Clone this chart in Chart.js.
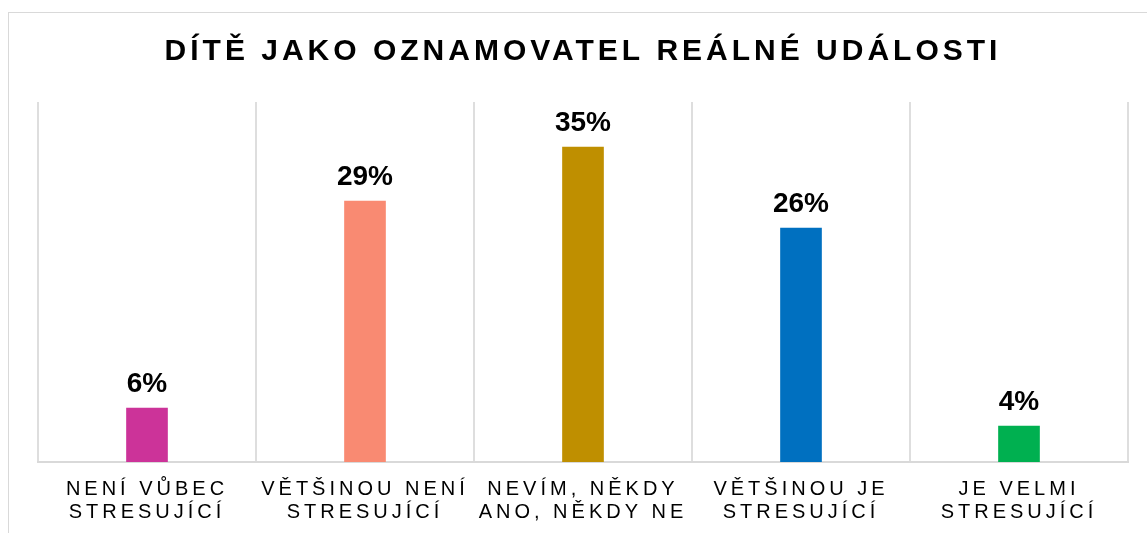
<!DOCTYPE html>
<html>
<head>
<meta charset="utf-8">
<script src="https://cdn.jsdelivr.net/npm/chart.js@4/dist/chart.umd.min.js"></script>
<style>
  html, body { margin: 0; padding: 0; background: #fff; }
  #wrap { position: relative; width: 1147px; height: 533px; }
</style>
</head>
<body>
<div id="wrap"><canvas id="myChart"></canvas></div>
<script>
const categories = [
  ["NENÍ VŮBEC", "STRESUJÍCÍ"],
  ["VĚTŠINOU NENÍ", "STRESUJÍCÍ"],
  ["NEVÍM, NĚKDY", "ANO, NĚKDY NE"],
  ["VĚTŠINOU JE", "STRESUJÍCÍ"],
  ["JE VELMI", "STRESUJÍCÍ"],
];
const values = [6, 29, 35, 26, 4];
const barColors = ["#CC3399", "#F98A72", "#BF8F00", "#0070C0", "#00B050"];
const titleText = "DÍTĚ JAKO OZNAMOVATEL REÁLNÉ UDÁLOSTI";

const FONT = "'Liberation Sans', Arial, sans-serif";

// outer frame + letter spacing for title and category labels
const framePlugin = {
  id: "frame",
  beforeDraw(chart) {
    const ctx = chart.ctx;
    ctx.save();
    ctx.strokeStyle = "#d9d9d9";
    ctx.lineWidth = 1;
    ctx.strokeRect(8.5, 12.5, 1200, 600);
    ctx.restore();
    ctx.letterSpacing = "4px";
  },
};

// percentage labels above bars
const valueLabels = {
  id: "valueLabels",
  afterDatasetsDraw(chart) {
    const ctx = chart.ctx;
    const meta = chart.getDatasetMeta(0);
    ctx.save();
    ctx.letterSpacing = "0px";
    ctx.font = "bold 28px " + FONT;
    ctx.fillStyle = "#000";
    ctx.textAlign = "center";
    ctx.textBaseline = "alphabetic";
    meta.data.forEach((bar, i) => {
      ctx.fillText(values[i] + "%", bar.x, bar.y - 16);
    });
    ctx.restore();
  },
};

const ctx = document.getElementById("myChart").getContext("2d");
new Chart(ctx, {
  type: "bar",
  data: {
    labels: categories,
    datasets: [
      {
        data: values,
        backgroundColor: barColors,
        borderWidth: 0,
        barThickness: 41,
      },
    ],
  },
  options: {
    responsive: true,
    maintainAspectRatio: false,
    animation: false,
    layout: { padding: { left: 38, right: 19, top: 0, bottom: 0 } },
    plugins: {
      legend: { display: false },
      tooltip: { enabled: false },
      title: {
        display: true,
        text: titleText,
        color: "#000",
        font: { family: FONT, size: 30, weight: "bold", lineHeight: 1.2 },
        padding: { top: 34, bottom: 32 },
      },
    },
    scales: {
      x: {
        grid: { color: "#dedede", lineWidth: 2, offset: true, drawTicks: false },
        border: { color: "#d9d9d9", width: 2 },
        ticks: {
          color: "#000",
          font: { family: FONT, size: 20, lineHeight: 1.15 },
          padding: 16,
          maxRotation: 0,
          autoSkip: false,
        },
        afterFit: (scale) => { scale.height = 71; },
      },
      y: {
        display: false,
        min: 0,
        max: 40,
      },
    },
  },
  plugins: [framePlugin, valueLabels],
});
</script>
</body>
</html>
